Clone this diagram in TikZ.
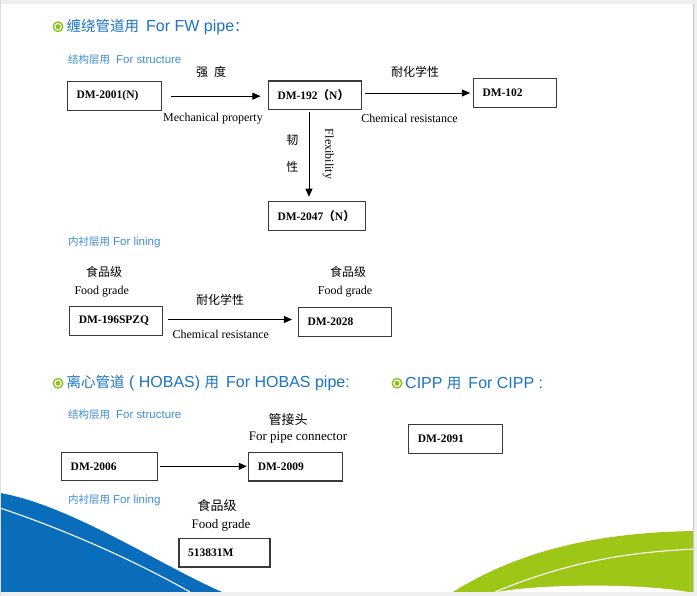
\documentclass[tikz,border=0pt]{standalone}
\usepackage{fontspec}
\setmainfont{Liberation Serif}
\newfontfamily\cjk{Noto Sans CJK SC}
\newfontfamily\hdfont{Liberation Sans}
\usetikzlibrary{arrows.meta}
\definecolor{headblue}{HTML}{1C74C2}
\definecolor{subblue}{HTML}{3F8ED4}
\definecolor{dotgreen}{HTML}{8CC21C}
\definecolor{waveblue}{HTML}{0A6DBB}
\definecolor{wavegreen}{HTML}{9DC617}
\definecolor{boxgray}{HTML}{3A3A3A}
\definecolor{edgegray}{HTML}{C8C8C8}
\definecolor{stripgray}{HTML}{EFEFEF}
\newcommand\zhhead[1]{{\cjk\fontsize{14.5}{17}\selectfont #1}}
\newcommand\zhsub[1]{{\cjk\fontsize{10.5}{12}\selectfont #1}}

\begin{document}
\begin{tikzpicture}[x=1pt, y=-1pt,
    box/.style={draw=boxgray, line width=1.1pt, minimum height=28.5pt,
      inner xsep=9pt, inner ysep=0pt, text width=#1, align=left,
      font=\bfseries\fontsize{11.5}{13}\selectfont},
    box/.default=76pt,
    lbl/.style={inner sep=0pt, font=\fontsize{12}{14}\selectfont},
    biglbl/.style={inner sep=0pt, font=\fontsize{13}{15}\selectfont},
    zh/.style={inner sep=0pt, font=\cjk\fontsize{12}{14}\selectfont},
    bigzh/.style={inner sep=0pt, font=\cjk\fontsize{13}{15}\selectfont},
    head/.style={anchor=west, inner sep=0pt, text=headblue,
      font=\hdfont\fontsize{16}{18}\selectfont},
    sub/.style={anchor=west, inner sep=0pt, text=subblue,
      font=\hdfont\fontsize{11.5}{13}\selectfont},
    bullet/.style={circle, draw=dotgreen, line width=1.4pt, minimum size=9.5pt,
      inner sep=0pt, path picture={\fill[dotgreen]
        (path picture bounding box.center) circle (2.5pt);}},
    flow/.style={-{Triangle[length=8pt,width=7pt]}, line width=0.8pt}]
  \useasboundingbox (0,0) rectangle (697,596);
  \fill[white] (0,0) rectangle (697,596);
  % waves
  \fill[waveblue] (0,493) .. controls (70,505) and (160,565) .. (222,592)
    -- (0,592) -- cycle;
  \draw[white, line width=1.1pt] (0,508) .. controls (60,528) and (130,558) .. (190,592);
  \fill[wavegreen] (453,592) .. controls (520,550) and (600,532) .. (697,531)
    -- (697,592) -- cycle;
  \draw[white, line width=1.1pt] (495,592) .. controls (560,565) and (620,552) .. (697,549);
  \fill[white] (497,592) .. controls (540,584) and (640,583) .. (688,592) -- cycle;
  % page edges
  \fill[stripgray] (0,0) rectangle (697,4);
  \fill[stripgray] (0,592) rectangle (697,596);
  \fill[stripgray] (693,0) rectangle (697,596);
  \fill[edgegray] (692.5,4) rectangle (694,592);
  \fill[edgegray!60] (0,0) rectangle (1,596);

  % headings
  \path
    (58,26.7) node[bullet] (b1){}
    (66.5,26.7) node[head] (h1){\zhhead{缠绕管道用}\hspace{7pt}For FW pipe\zhhead{：}}
    (68,60) node[sub] (s1){\zhsub{结构层用}\hspace{6pt}For structure}
    (68,242.7) node[sub] (s2){\zhsub{内衬层用}\hspace{3pt}For lining}
    (58,383.3) node[bullet] (b2){}
    (66.5,383.3) node[head] (h2){\zhhead{离心管道} ( HOBAS) \zhhead{用}\hspace{7pt}For HOBAS pipe:}
    (68,415) node[sub] (s3){\zhsub{结构层用}\hspace{6pt}For structure}
    (68,500) node[sub] (s4){\zhsub{内衬层用}\hspace{3pt}For lining}
    (397,383.3) node[bullet] (b3){}
    (405,383.3) node[head] (h3){CIPP \zhhead{用}\hspace{7pt}For CIPP :};

  % boxes
  \path
    (114.5,96.2) node[box] (dm2001){DM-2001(N)}
    (315,95.3) node[box=75pt] (dm192){DM-192{\cjk （}N{\cjk ）}}
    (515,93) node[box=65pt] (dm102){DM-102}
    (317,216) node[box=79pt] (dm2047){DM-2047{\cjk （}N{\cjk ）}}
    (116.3,321) node[box=75pt] (dm196){DM-196SPZQ}
    (345,322) node[box=75pt] (dm2028){DM-2028}
    (109.7,466.3) node[box=78pt] (dm2006){DM-2006}
    (295.8,466.7) node[box] (dm2009){DM-2009}
    (224.5,552.7) node[box=73pt] (m513){513831M}
    (455.8,438.8) node[box] (dm2091){DM-2091};

  % labels
  \path
    (211,71.7) node[zh] (strength){强\hspace{6pt}度}
    (213,118.5) node[lbl] (mech){Mechanical property}
    (415,71.5) node[zh] (chemzh){耐化学性}
    (409.5,118.5) node[lbl] (chem){Chemical resistance}
    (292.3,140) node[zh] (ren){韧}
    (292.3,166.7) node[zh] (xing){性}
    (328.3,154) node[lbl, rotate=-90] (flex){Flexibility}
    (104,271.7) node[zh] (foodzhA){食品级}
    (101.7,291.7) node[lbl] (foodA){Food grade}
    (220,300) node[zh] (chemzhB){耐化学性}
    (220.8,334) node[lbl] (chemB){Chemical resistance}
    (348,271.7) node[zh] (foodzhB){食品级}
    (345,291.7) node[lbl] (foodB){Food grade}
    (288,420) node[bigzh] (joint){管接头}
    (298,437.7) node[biglbl] (conn){For pipe connector}
    (217,505.7) node[bigzh] (foodzhC){食品级}
    (221,525) node[biglbl] (foodC){Food grade};

  \coordinate (flexx) at (309,0);
  \begin{scope}[flow]
    \draw[shorten <=9pt, shorten >=7.5pt] (dm2001.east) -- (dm2001.east -| dm192.west);
    \draw[shorten <=3pt, shorten >=3pt] (dm102.west -| dm192.east) -- (dm102.west);
    \draw[shorten <=1.5pt, shorten >=4.5pt] (dm192.south -| flexx) -- (dm2047.north -| flexx);
    \draw[shorten <=4.5pt, shorten >=6pt] (dm196.east) ++(0,-1.5) coordinate (lstart)
      (lstart) -- (lstart -| dm2028.west);
    \draw[shorten <=2pt, shorten >=1.5pt] (dm2006.east) -- (dm2006.east -| dm2009.west);
  \end{scope}
\end{tikzpicture}
\end{document}
